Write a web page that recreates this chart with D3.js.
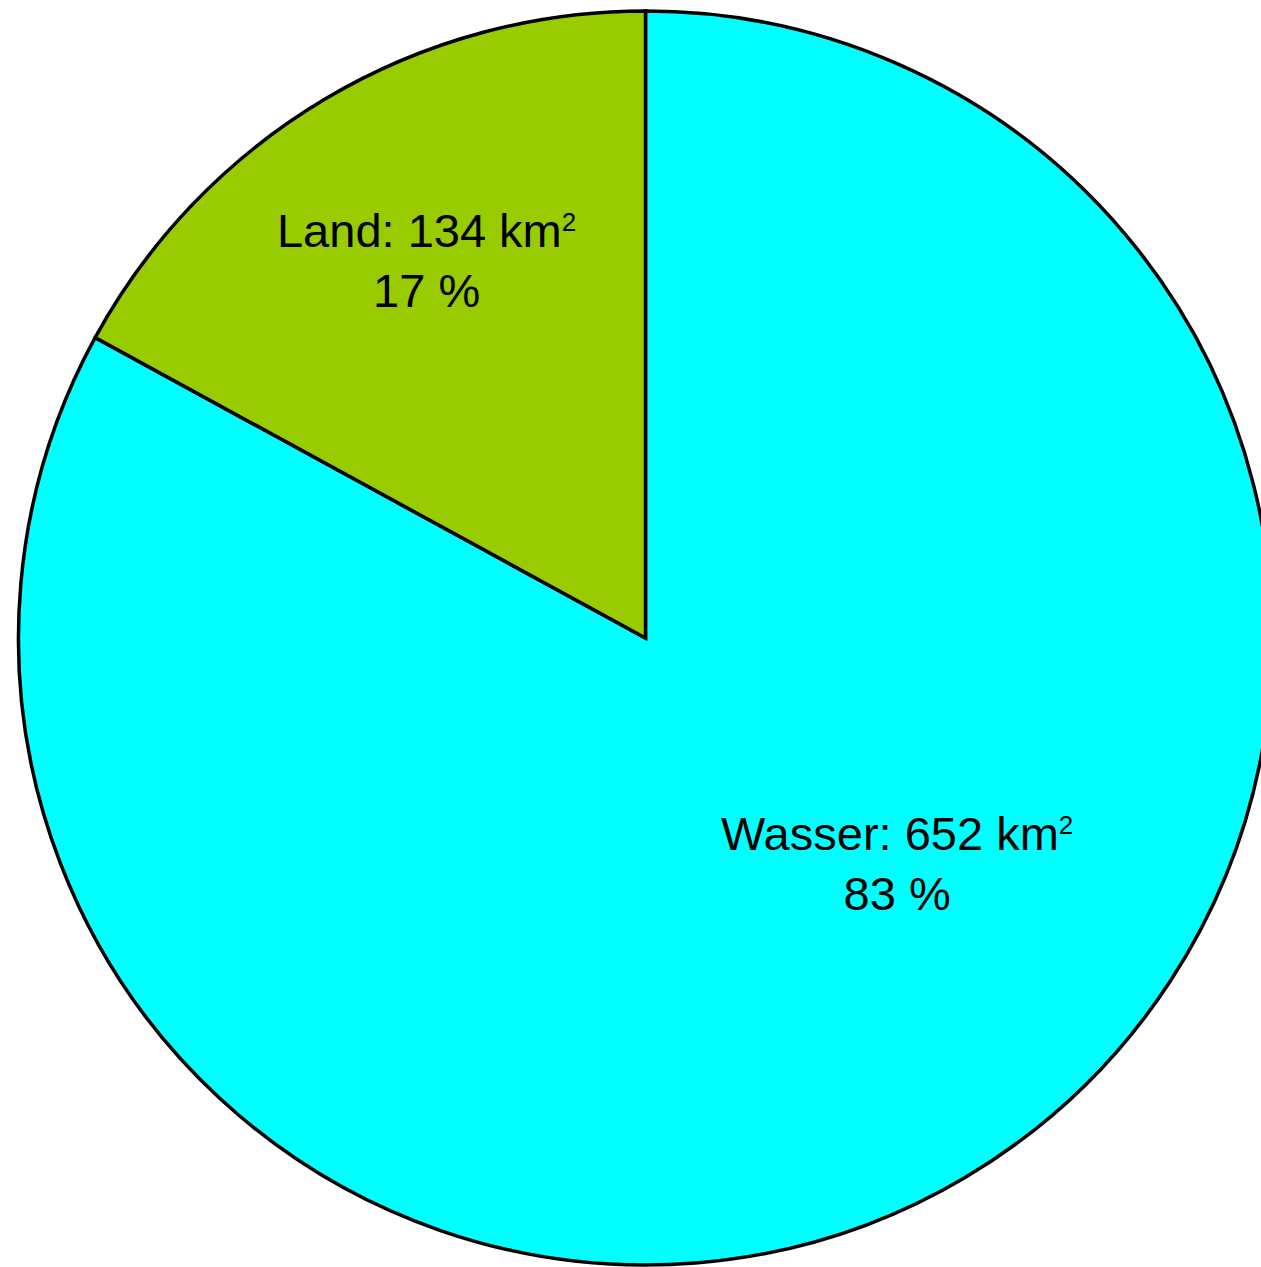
<!DOCTYPE html>
<html>
<head>
<meta charset="utf-8">
<script src="https://cdn.jsdelivr.net/npm/d3@7"></script>
<style>
html,body{margin:0;padding:0;background:#fff;overflow:hidden;}
svg{display:block;}
</style>
</head>
<body>
<svg id="chart" width="1261" height="1267"></svg>
<script>
const categories = ["Wasser", "Land"];
const areas = [652, 134];
const percents = ["83 %", "17 %"];
const colors = ["#00FFFF", "#99CC00"];
// label anchor: angle (deg, clockwise from 12 o'clock) and radius fraction
const labelAngles = [132, 329.8];
const labelRadii = [0.54, 0.694];

const cx = 645.5, cy = 638, R = 627;
const svg = d3.select("#chart");
const g = svg.append("g").attr("transform", `translate(${cx},${cy})`);

const data = categories.map((c, i) => ({name: c, value: areas[i], pct: percents[i], color: colors[i], la: labelAngles[i], lr: labelRadii[i]}));
const pie = d3.pie().value(d => d.value).sort(null);
const arc = d3.arc().innerRadius(0).outerRadius(R);
const arcs = pie(data);

g.selectAll("path.slice").data(arcs).join("path")
  .attr("class", "slice")
  .attr("d", arc)
  .attr("fill", d => d.data.color)
  .attr("stroke", "#000")
  .attr("stroke-width", 3.5)
  .attr("stroke-linejoin", "miter");

const fs = 47;
const labels = g.selectAll("g.label").data(arcs).join("g")
  .attr("class", "label")
  .attr("transform", d => {
    const a = d.data.la * Math.PI / 180;
    const r = d.data.lr * R;
    return `translate(${r * Math.sin(a)},${-r * Math.cos(a)})`;
  });

labels.each(function(d) {
  const sel = d3.select(this);
  const t1 = sel.append("text")
    .attr("text-anchor", "middle")
    .attr("y", -15)
    .attr("font-family", "Liberation Sans, Arial, sans-serif")
    .attr("font-size", fs)
    .attr("fill", "#000");
  t1.append("tspan").text(`${d.data.name}: ${d.data.value} km`);
  t1.append("tspan").attr("font-size", 26).attr("dy", -16).text("2");
  sel.append("text")
    .attr("text-anchor", "middle")
    .attr("y", 45)
    .attr("font-family", "Liberation Sans, Arial, sans-serif")
    .attr("font-size", fs)
    .attr("fill", "#000")
    .text(d.data.pct);
});
</script>
</body>
</html>
